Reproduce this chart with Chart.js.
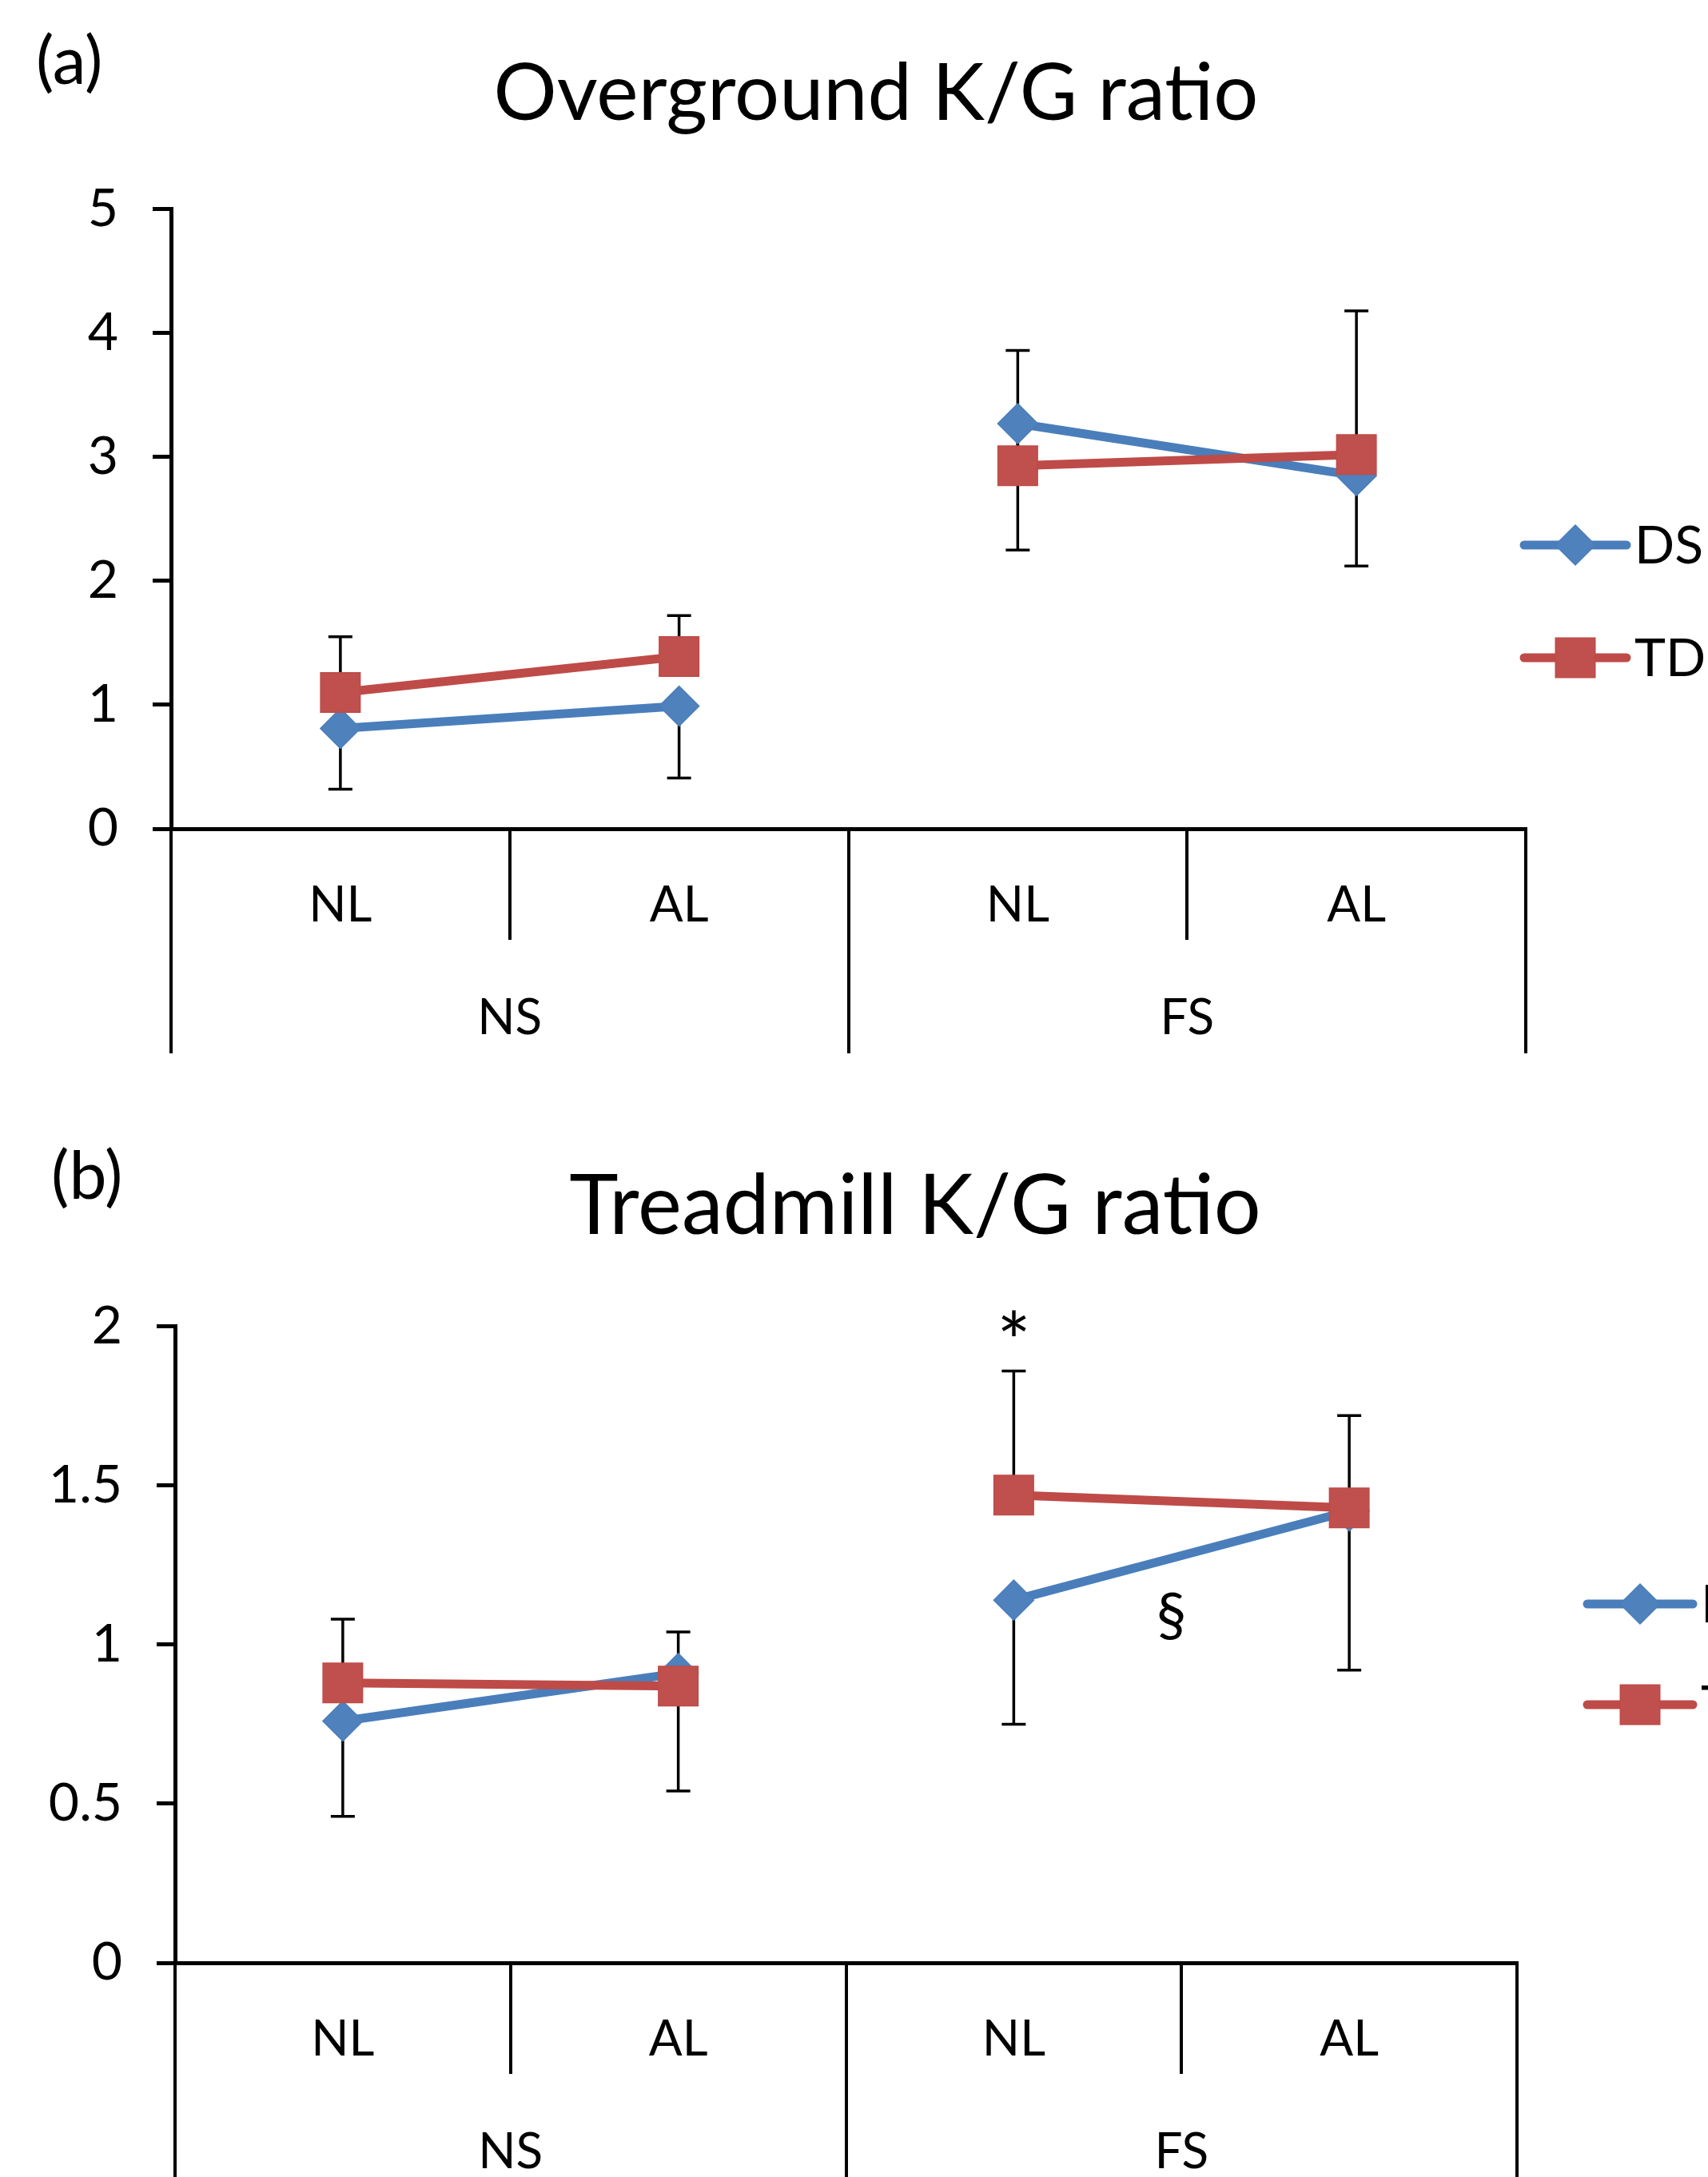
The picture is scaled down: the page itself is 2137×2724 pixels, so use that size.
<!DOCTYPE html>
<html>
<head>
<meta charset="utf-8">
<script src="https://cdn.jsdelivr.net/npm/chart.js@4.4.0/dist/chart.umd.min.js"></script>
<style>
  html, body { margin: 0; background: #fff; overflow: hidden; }
  .panel { position: absolute; left: 0; }
  #wrapA { top: 0; width: 2192px; height: 1360px; }
  #wrapB { top: 1360px; width: 2290px; height: 1364px; }
</style>
</head>
<body>
<div class="panel" id="wrapA"><canvas id="chartA"></canvas></div>
<div class="panel" id="wrapB"><canvas id="chartB"></canvas></div>
<script>
const conditions = ["NL", "AL", "NL", "AL"];
const conditionGroup = [0, 0, 1, 1];   // which speed each condition belongs to
const speeds = ["NS", "FS"];
const seriesNames = ["DS", "TD"];

// (a) overground K/G ratio, mean and SD (DS bars go down, TD bars go up)
const overDS = [0.81, 0.99, 3.27, 2.85];
const overTD = [1.10, 1.39, 2.93, 3.02];
const overDSsd = [0.49, 0.58, 1.02, 0.73];
const overTDsd = [0.45, 0.33, 0.93, 1.16];
const overTicks = { min: 0, max: 5, step: 1 };
const overTickLabels = ["0", "1", "2", "3", "4", "5"];

// (b) treadmill K/G ratio
const treadDS = [0.76, 0.91, 1.14, 1.42];
const treadTD = [0.88, 0.87, 1.47, 1.43];
const treadDSsd = [0.30, 0.37, 0.39, 0.50];
const treadTDsd = [0.20, 0.17, 0.39, 0.29];
const treadTicks = { min: 0, max: 2, step: 0.5 };
const treadTickLabels = ["0", "0.5", "1", "1.5", "2"];

// significance marks: category index, y value
const treadMarks = [
  { text: "*", x: 2, y: 1.94 },
  { text: "\u00a7", x: 2.47, y: 1.09 }
];

const FONT = "Lato";
const BLUE = "#4A7EBB", BLUE_FILL = "#4F81BD";
const RED = "#BE4B48", RED_FILL = "#C0504D";

const markerStyles = [
  { pointStyle: "rectRot", radius: 25, fill: BLUE_FILL, line: BLUE },
  { pointStyle: "rect", radius: 35, fill: RED_FILL, line: RED }
];

/* ---------------- EXTRAS: error bars, tag, legend, marks ---------------- */
const extrasPlugin = {
  id: "extras",
  beforeDatasetsDraw(chart, args, o) {
    const ctx = chart.ctx;
    const xs = chart.scales.x, ys = chart.scales.y;
    ctx.save();
    ctx.strokeStyle = "#000";
    ctx.lineWidth = 3.5;
    o.means.forEach((m, s) => {
      m.forEach((v, i) => {
        const end = s === 0 ? v - o.sds[s][i] : v + o.sds[s][i];
        const px = xs.getPixelForValue(i);
        const y1 = ys.getPixelForValue(v), y2 = ys.getPixelForValue(end);
        ctx.beginPath();
        ctx.moveTo(px, y1); ctx.lineTo(px, y2);
        ctx.moveTo(px - 15, y2); ctx.lineTo(px + 15, y2);
        ctx.stroke();
      });
    });
    ctx.restore();
  },
  afterDraw(chart, args, o) {
    const ctx = chart.ctx;
    const area = chart.chartArea;
    ctx.save();
    ctx.fillStyle = "#000";
    ctx.textBaseline = "middle";

    // panel tag
    ctx.font = `84px ${FONT}`;
    ctx.textAlign = "left";
    ctx.fillText(o.tag, o.tagX, o.tagY);

    // significance marks
    ctx.textAlign = "center";
    (o.marks || []).forEach(m => {
      ctx.font = m.text === "*" ? `100px ${FONT}` : `76px ${FONT}`;
      ctx.fillText(m.text, chart.scales.x.getPixelForValue(m.x), chart.scales.y.getPixelForValue(m.y));
    });

    // legend: line with marker, then name
    const lx = area.right + o.legendDx;
    seriesNames.forEach((name, s) => {
      const st = markerStyles[s];
      const ly = o.legendY[s];
      ctx.strokeStyle = st.line;
      ctx.lineWidth = 11;
      ctx.lineCap = "round";
      ctx.beginPath();
      ctx.moveTo(lx, ly); ctx.lineTo(lx + o.legendLen, ly);
      ctx.stroke();
      ctx.fillStyle = st.fill;
      ctx.lineWidth = 1.5;
      Chart.helpers.drawPoint(ctx, { pointStyle: st.pointStyle, radius: st.radius, rotation: 0, borderWidth: 1.5 },
        lx + o.legendLen / 2, ly);
      ctx.fillStyle = "#000";
      ctx.textAlign = "left";
      ctx.font = `66px ${FONT}`;
      ctx.fillText(name, lx + o.legendLen + 10, ly + 2);
    });
    ctx.restore();
  }
};

function makePanel(id, p) {
  const datasets = [p.ds, p.td].map((vals, s) => ({
    label: seriesNames[s],
    data: vals,
    order: s === 0 ? 1 : 0,
    borderColor: markerStyles[s].line,
    backgroundColor: markerStyles[s].fill,
    borderWidth: 11,
    tension: 0,
    segment: {
      // no line between the two speed groups
      borderColor: c => conditionGroup[c.p0DataIndex] !== conditionGroup[c.p1DataIndex] ? "rgba(0,0,0,0)" : undefined
    },
    pointStyle: markerStyles[s].pointStyle,
    pointRadius: markerStyles[s].radius,
    pointBackgroundColor: markerStyles[s].fill,
    pointBorderColor: markerStyles[s].line,
    pointBorderWidth: 1.5
  }));

  const tickFont = { family: FONT, size: 62 };

  return new Chart(document.getElementById(id), {
    type: "line",
    data: { labels: conditions, datasets },
    options: {
      responsive: true,
      maintainAspectRatio: false,
      devicePixelRatio: 1,
      animation: false,
      clip: false,
      layout: { padding: { left: 0, right: 0, top: 0, bottom: p.padBottom } },
      plugins: {
        legend: { display: false },
        tooltip: { enabled: false },
        title: {
          display: true,
          text: p.title,
          color: "#000",
          font: { family: FONT, size: p.titleSize, weight: "normal", lineHeight: 1.2 },
          padding: { top: p.titleTop, bottom: p.titleBottom }
        },
        extras: {
          means: [p.ds, p.td],
          sds: [p.dsSd, p.tdSd],
          tag: p.tag, tagX: p.tagX, tagY: p.tagY,
          marks: p.marks,
          legendDx: p.legendDx, legendLen: p.legendLen, legendY: p.legendY
        }
      },
      scales: {
        x: {
          type: "category",
          position: "bottom",
          offset: true,
          weight: 0,
          border: { display: true, color: "#000", width: 5 },
          grid: { offset: true, drawOnChartArea: false, drawTicks: true, tickLength: 139, color: "#000", lineWidth: 4 },
          ticks: { color: "#000", font: tickFont, padding: -80, maxRotation: 0 },
          afterFit: s => { s.height = 139; }
        },
        x2: {
          type: "category",
          labels: speeds,
          position: "bottom",
          offset: true,
          weight: 1,
          border: { display: false },
          grid: { offset: true, drawOnChartArea: false, drawTicks: true, tickLength: 142, color: "#000", lineWidth: 4 },
          ticks: { color: "#000", font: tickFont, padding: -81, maxRotation: 0 },
          afterFit: s => { s.height = p.x2Height; }
        },
        y: {
          type: "linear",
          position: "left",
          min: p.ticks.min,
          max: p.ticks.max,
          border: { display: true, color: "#000", width: 5 },
          grid: { drawOnChartArea: false, drawTicks: true, tickLength: 23, color: "#000", lineWidth: 5 },
          ticks: {
            stepSize: p.ticks.step, color: "#000", font: { family: FONT, size: 66 }, padding: 43,
            callback: (v, i) => p.tickLabels[i]
          },
          afterFit: s => { s.width = p.yWidth; }
        },
        side: {
          type: "linear",
          position: "right",
          display: true,
          border: { display: false },
          grid: { display: false },
          ticks: { display: false },
          afterFit: s => { s.width = p.rightWidth; }
        }
      }
    },
    plugins: [extrasPlugin]
  });
}

makePanel("chartA", {
  title: "Overground K/G ratio", titleSize: 99,
  ds: overDS, td: overTD, dsSd: overDSsd, tdSd: overTDsd,
  ticks: overTicks, tickLabels: overTickLabels,
  yWidth: 214, rightWidth: 283,
  titleTop: 59, titleBottom: 84,
  x2Height: 142, padBottom: 42,
  tag: "(a)", tagX: 45, tagY: 78,
  marks: [],
  legendDx: -2, legendLen: 128, legendY: [682, 823]
});

makePanel("chartB", {
  title: "Treadmill K/G ratio", titleSize: 104,
  ds: treadDS, td: treadTD, dsSd: treadDSsd, tdSd: treadTDsd,
  ticks: treadTicks, tickLabels: treadTickLabels,
  yWidth: 219, rightWidth: 392,
  titleTop: 88, titleBottom: 87,
  x2Height: 129, padBottom: 0,
  tag: "(b)", tagX: 64, tagY: 113,
  marks: treadMarks,
  legendDx: 88, legendLen: 132, legendY: [647, 773]
});
</script>
</body>
</html>
